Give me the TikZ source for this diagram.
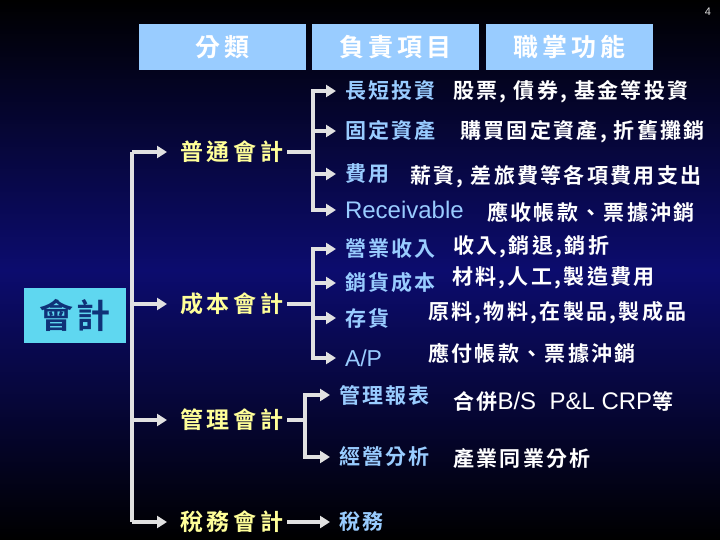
\documentclass[tikz,border=0pt]{standalone}
\usepackage{fontspec}
\usepackage{tikz}
\usetikzlibrary{arrows.meta,positioning,calc}
\setmainfont{Noto Sans CJK TC}
\newfontfamily\cjk{Noto Sans CJK TC Bold}[LetterSpace=11]
\newfontfamily\cjkwide{Noto Sans CJK TC Bold}[LetterSpace=16]
\newfontfamily\lat{Liberation Sans}
\definecolor{bgNavy}{RGB}{12,12,110}
\definecolor{headBlue}{RGB}{153,204,255}
\definecolor{acctCyan}{RGB}{95,215,240}
\definecolor{acctText}{RGB}{15,50,120}
\definecolor{catYellow}{RGB}{255,255,153}
\definecolor{itemBlue}{RGB}{153,204,255}
\definecolor{arrowGray}{RGB}{225,225,225}

\begin{document}
\begin{tikzpicture}[x=1pt,y=-1pt,
  arr/.style={draw=arrowGray,line width=3.2pt,-{Triangle[length=10pt,width=12pt]}},
  catarr/.style={arr,shorten >=9pt},
  link/.style={draw=arrowGray,line width=3.2pt},
  head/.style={fill=headBlue,minimum width=167pt,minimum height=46pt,text=white,
    font=\cjkwide\fontsize{25}{28}\selectfont},
  cat/.style={text=catYellow,font=\cjkwide\fontsize{23}{26}\selectfont,inner sep=0pt,outer sep=4pt,anchor=west},
  item/.style={text=itemBlue,font=\cjk\fontsize{21}{24}\selectfont,inner sep=0pt,outer sep=9pt,anchor=west},
  desc/.style={text=white,font=\cjk\fontsize{21}{24}\selectfont,inner sep=0pt,anchor=west}]
  \useasboundingbox (0,0) rectangle (720,540);
  \fill[top color=black,bottom color=black,middle color=bgNavy] (0,0) rectangle (720,540);
  \node[text=arrowGray,font=\lat\fontsize{11}{12}\selectfont] (pageno) at (708,12) {4};

  % header row
  \node[head] (hdclass) at (222,47) {分類};
  \node[head] (hdduty) at (395.5,47) {負責項目};
  \node[head] (hdfunc) at (569,47) {職掌功能};

  % root
  \node[fill=acctCyan,minimum width=102pt,minimum height=55pt,text=acctText,
    font=\cjk\fontsize{34}{36}\selectfont] (acct) at (75,315.5) {會計};

  % categories
  \node[cat] (catgen) at (176,152) {普通會計};
  \node[cat] (catcost) at (176,304) {成本會計};
  \node[cat] (catmgmt) at (176,420) {管理會計};
  \node[cat] (cattax) at (176,522) {稅務會計};

  % items
  \node[item] (invest) at (336,91) {長短投資};
  \node[item] (fixed) at (336,131) {固定資產};
  \node[item] (expense) at (336,174) {費用};
  \node[item,font=\lat\fontsize{24}{26}\selectfont] (recv) at (336,210) {Receivable};
  \node[item] (revenue) at (336,249) {營業收入};
  \node[item] (cogs) at (336,283) {銷貨成本};
  \node[item] (stock) at (336,318) {存貨};
  \node[item,font=\lat\fontsize{23}{26}\selectfont] (ap) at (336,358) {A/P};
  \node[item] (report) at (330,395) {管理報表};
  \node[item] (analysis) at (330,457) {經營分析};
  \node[item] (tax) at (330,522) {稅務};

  % descriptions
  \node[desc] (investd) at (453,92) {股票, 債券, 基金等投資};
  \node[desc] (fixedd) at (460,132) {購買固定資產, 折舊攤銷};
  \node[desc] (expensed) at (410,177) {薪資, 差旅費等各項費用支出};
  \node[desc] (recvd) at (487,212) {應收帳款、票據沖銷};
  \node[desc] (revenued) at (453,247) {收入,銷退,銷折};
  \node[desc] (cogsd) at (452,278) {材料,人工,製造費用};
  \node[desc] (stockd) at (428,313) {原料,物料,在製品,製成品};
  \node[desc] (apd) at (428,353) {應付帳款、票據沖銷};
  \node[desc] (reportd) at (453,402) {合併{\lat\fontsize{24}{26}\selectfont B/S\ \ P\&L CRP}等};
  \node[desc] (analysisd) at (453,459) {產業同業分析};

  % main spine
  \coordinate (spinetop) at (132,152);
  \coordinate (spinebot) at (132,522);
  \draw[link] (spinetop) -- (spinebot);
  \draw[catarr] (spinetop) -- (catgen);
  \draw[catarr] (catcost -| spinetop) -- (catcost);
  \draw[catarr] (catmgmt -| spinetop) -- (catmgmt);
  \draw[catarr] (spinebot) -- (cattax);

  % forks
  \coordinate (genfork) at (313,152);
  \draw[link] (catgen) -- (genfork);
  \foreach \n in {invest,fixed,expense,recv}
    \draw[arr] (genfork) |- (\n);

  \coordinate (costfork) at (313,304);
  \draw[link] (catcost) -- (costfork);
  \foreach \n in {revenue,cogs,stock,ap}
    \draw[arr] (costfork) |- (\n);

  \coordinate (mgmtfork) at (305,420);
  \draw[link] (catmgmt) -- (mgmtfork);
  \foreach \n in {report,analysis}
    \draw[arr] (mgmtfork) |- (\n);

  \draw[arr] (cattax) -- (tax);
\end{tikzpicture}
\end{document}
